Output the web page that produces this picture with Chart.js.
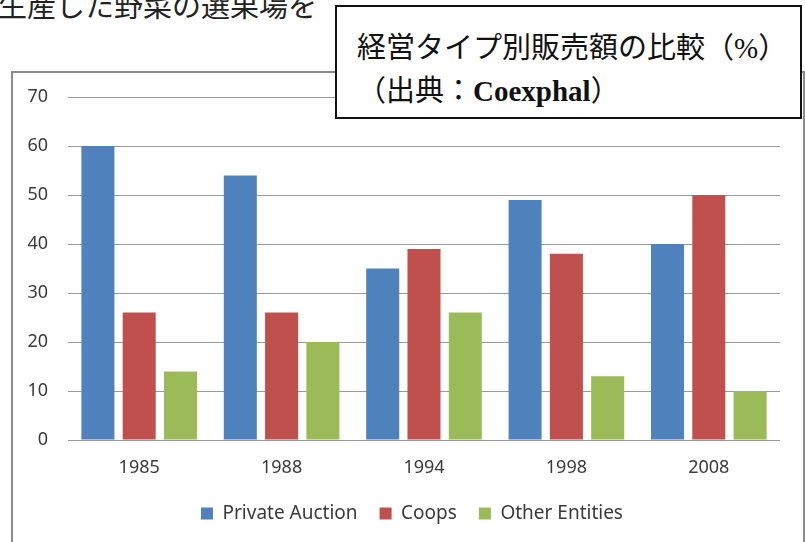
<!DOCTYPE html>
<html>
<head>
<meta charset="utf-8">
<script src="https://cdn.jsdelivr.net/npm/chart.js@4"></script>
<style>
    html, body { margin: 0; padding: 0; background: #fff; }
    body { width: 805px; height: 542px; position: relative; overflow: hidden; }
    #lead {
        position: absolute; left: -2px; top: -17px;
        font: 29px "Liberation Serif", "Noto Sans CJK JP", serif; color: #222;
        white-space: nowrap;
    }
    #frame {
        position: absolute; left: 11px; top: 71px; width: 790px; height: 490px;
        border: 2px solid #8c8c8c;
    }
    #chart_wrap { position: absolute; left: 0; top: 0; width: 805px; height: 542px; }
    #titlebox {
        position: absolute; left: 335px; top: 5px; width: 463px; height: 110px;
        border: 2px solid #111; background: #fff;
        font: 29px "Liberation Serif", "Noto Sans CJK JP", serif; color: #111;
    }
    #titlebox div { position: absolute; left: 20px; white-space: nowrap; }
    #titlebox b { font-weight: bold; }
</style>
</head>
<body>
<div id="lead">生産した野菜の選果場を</div>
<div id="frame"></div>
<div id="chart_wrap"><canvas id="chart_sales"></canvas></div>
<div id="titlebox">
    <div style="top: 17px;">経営タイプ別販売額の比較（%）</div>
    <div style="top: 60px;">（出典：<b>Coexphal</b>）</div>
</div>
<script>
const years = ['1985', '1988', '1994', '1998', '2008'];
const privateAuction = [60, 54, 35, 49, 40];
const coops = [26, 26, 39, 38, 50];
const otherEntities = [14, 20, 26, 13, 10];

const tickFont = { family: 'Noto Sans', size: 18 };
const tickColor = '#3a3a3a';

const makeSet = (label, data, color) => ({
    label: label,
    data: data,
    backgroundColor: color,
    borderWidth: 0,
    barPercentage: 0.8,
    categoryPercentage: 0.87
});

// the original legend sits a little right of the canvas centre
const legendNudge = {
    id: 'legendNudge',
    afterLayout(chart) {
        if (chart.legend) chart.legend.left += 24;
    }
};

new Chart(document.getElementById('chart_sales'), {
    type: 'bar',
    data: {
        labels: years,
        datasets: [
            makeSet('Private Auction', privateAuction, '#4F81BD'),
            makeSet('Coops', coops, '#C0504D'),
            makeSet('Other Entities', otherEntities, '#9BBB59')
        ]
    },
    options: {
        responsive: true,
        maintainAspectRatio: false,
        animation: false,
        layout: { padding: { left: 20, right: 25, top: 97, bottom: 9 } },
        plugins: {
            title: { display: false },
            tooltip: { enabled: false },
            legend: {
                position: 'bottom',
                labels: {
                    boxWidth: 12,
                    boxHeight: 12,
                    padding: 22,
                    color: tickColor,
                    font: { family: 'Noto Sans', size: 19 }
                }
            }
        },
        scales: {
            x: {
                grid: { display: false },
                border: { display: false },
                ticks: { color: tickColor, font: tickFont, padding: 9 },
                afterFit: (scale) => { scale.height = 42; }
            },
            y: {
                min: 0,
                max: 70,
                ticks: { stepSize: 10, color: tickColor, font: tickFont, padding: 20 },
                grid: { color: '#9a9a9a', lineWidth: 1, drawTicks: false },
                border: { display: false },
                afterFit: (scale) => { scale.width = 48; }
            }
        }
    },
    plugins: [legendNudge]
});
</script>
</body>
</html>
